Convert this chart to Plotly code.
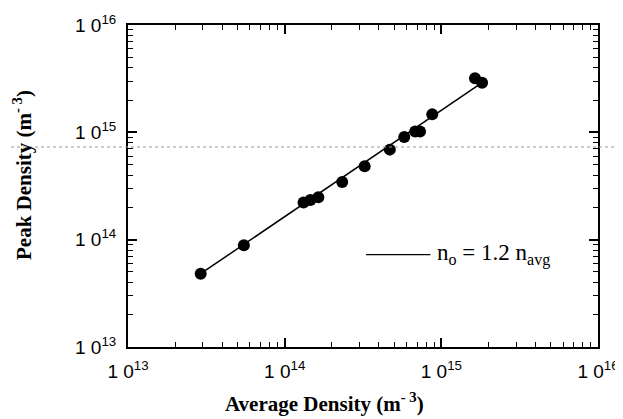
import plotly.graph_objects as go

avg_density = [2.91e13, 5.49e13, 1.32e14, 1.46e14, 1.64e14, 2.33e14, 3.24e14,
               4.69e14, 5.80e14, 6.81e14, 7.31e14, 8.75e14, 1.64e15, 1.82e15]
peak_density = [4.82e13, 8.87e13, 2.22e14, 2.34e14, 2.48e14, 3.45e14, 4.83e14,
                6.90e14, 9.04e14, 1.02e15, 1.02e15, 1.47e15, 3.19e15, 2.90e15]
fit_x = [2.91e13, 1.82e15]
fit_y = [4.82e13, 2.90e15]
major_vals = [1e13, 1e14, 1e15, 1e16]
major_text = ["1 0<sup>13</sup>", "1 0<sup>14</sup>", "1 0<sup>15</sup>", "1 0<sup>16</sup>"]
minor_vals = [m * 10**e for e in (13, 14, 15) for m in range(2, 10)]

fig = go.Figure()
fig.add_trace(go.Scatter(x=fit_x, y=fit_y, mode="lines",
                         line=dict(color="black", width=1.5), showlegend=False))
fig.add_trace(go.Scatter(x=avg_density, y=peak_density, mode="markers",
                         marker=dict(color="black", size=12), showlegend=False))

axis_common = dict(type="log", range=[13, 16], showgrid=False, zeroline=False,
                   automargin=False,
                   showline=True, linecolor="black", linewidth=2, mirror="ticks",
                   ticks="inside", ticklen=9, tickwidth=1.5, tickcolor="black",
                   tickmode="array", tickvals=major_vals, ticktext=major_text,
                   tickfont=dict(family="Liberation Sans", size=19, color="black"),
                   minor=dict(tickmode="array", tickvals=minor_vals, ticks="inside",
                              ticklen=5, tickwidth=1.2, tickcolor="black", showgrid=False))

fig.update_xaxes(**axis_common, ticklabelstandoff=6)
fig.update_yaxes(**axis_common, ticklabelstandoff=6)

title_font = dict(family="Liberation Serif", size=21, color="black")
fig.add_annotation(xref="paper", yref="paper", x=(324 - 128) / 470, y=-(402 - 347) / 322,
                   xanchor="center", yanchor="middle", showarrow=False,
                   text="<b>Average Density (m<sup>- 3</sup>)</b>", font=title_font)
fig.add_annotation(xref="paper", yref="paper", x=-(128 - 22) / 470, y=(347 - 175) / 322,
                   xanchor="center", yanchor="middle", showarrow=False, textangle=-90,
                   text="<b>Peak Density (m<sup>- 3</sup>)</b>", font=title_font)

# legend line and label
fig.add_shape(type="line", xref="x", yref="y", x0=10**14.52, x1=10**14.93,
              y0=10**13.86, y1=10**13.86, line=dict(color="black", width=1.2))
fig.add_annotation(xref="x", yref="y", x=14.96, y=13.86, xanchor="left",
                   yanchor="middle", showarrow=False,
                   text="n<sub>o</sub> = 1.2 n<sub>avg</sub>",
                   font=dict(family="Liberation Serif", size=23, color="black"))

# scan artifact dotted line
fig.add_shape(type="line", xref="paper", yref="paper", x0=-0.3, x1=1.1,
              y0=(347 - 147) / 322, y1=(347 - 147) / 322,
              line=dict(color="#9a9a9a", width=1, dash="dot"))

fig.update_layout(width=623, height=419, plot_bgcolor="white", paper_bgcolor="white",
                  margin=dict(l=120, r=33, t=17, b=80), showlegend=False)

fig.write_html("out.html")
